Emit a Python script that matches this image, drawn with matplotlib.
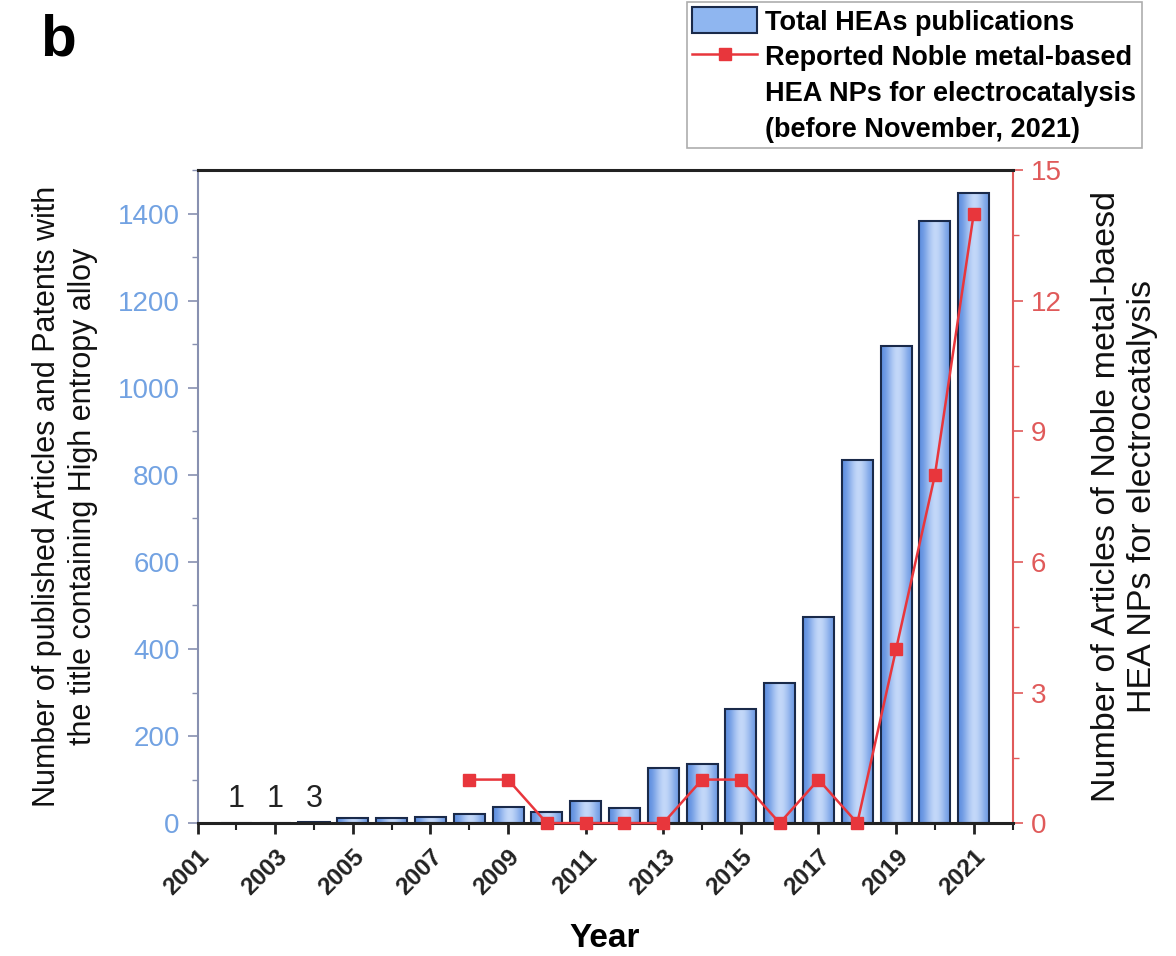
import matplotlib
matplotlib.use("Agg")
import matplotlib.pyplot as plt
import numpy as np
from matplotlib.ticker import MultipleLocator
from matplotlib.lines import Line2D
from matplotlib.patches import Patch
from matplotlib.colors import LinearSegmentedColormap

plt.rcParams['font.family'] = ['Liberation Sans', 'DejaVu Sans']

years = [2002, 2003, 2004, 2005, 2006, 2007, 2008, 2009, 2010, 2011,
         2012, 2013, 2014, 2015, 2016, 2017, 2018, 2019, 2020, 2021]
total_heas = [1, 1, 3, 11, 12, 15, 21, 37, 25, 50,
              34, 126, 135, 262, 321, 473, 835, 1095, 1384, 1448]
noble_years = [2008, 2009, 2010, 2011, 2012, 2013, 2014, 2015,
               2016, 2017, 2018, 2019, 2020, 2021]
noble_counts = [1, 1, 0, 0, 0, 0, 1, 1, 0, 1, 0, 4, 8, 14]
annot_years = [2002, 2003, 2004]
annot_text = ["1", "1", "3"]

fig = plt.figure(figsize=(11.76, 9.56), dpi=100)
ax = fig.add_axes([0.168, 0.139, 0.693, 0.683])
ax2 = ax.twinx()

blue_tick = '#72a2e2'
red = '#e8363c'
red_tick = '#e05a5a'

bars = ax.bar(years, total_heas, width=0.8, color='#8fb6f0',
              edgecolor='#1a2a4a', linewidth=1.5, zorder=2)
grad = np.array([[0.0, 0.35, 0.75, 1.0, 0.85, 0.5, 0.15]])
cmap = LinearSegmentedColormap.from_list('b', ['#5f8fe0', '#c9dcfa'])
for b in bars:
    x0, y0 = b.get_x(), b.get_y()
    w, h = b.get_width(), b.get_height()
    im = ax.imshow(grad, cmap=cmap, aspect='auto', extent=[x0, x0 + w, y0, y0 + h],
                   interpolation='bicubic', zorder=2.5, vmin=0, vmax=1)
    im.set_clip_path(b)
    b.set_facecolor('none')
    b.set_zorder(3)

for yr, t in zip(annot_years, annot_text):
    ax.text(yr, 22, t, ha='center', va='bottom', fontsize=22, color='#222222')

ax.set_xlim(2001, 2022)
ax.set_ylim(0, 1500)
ax2.set_ylim(0, 15)

ax2.plot(noble_years, noble_counts, color=red, marker='s', markersize=9,
         linewidth=1.8, zorder=5, clip_on=False)

ax.xaxis.set_major_locator(MultipleLocator(2))
ax.xaxis.set_minor_locator(MultipleLocator(1))
ax.yaxis.set_major_locator(MultipleLocator(200))
ax.yaxis.set_minor_locator(MultipleLocator(100))
ax2.yaxis.set_major_locator(MultipleLocator(3))
ax2.yaxis.set_minor_locator(MultipleLocator(1.5))

ax.set_xticks(np.arange(2001, 2022, 2))
ax.set_xticklabels([str(y) for y in range(2001, 2022, 2)], rotation=45,
                   ha='right', rotation_mode='anchor', fontweight='bold', fontsize=17.5)
ax.tick_params(axis='x', which='major', direction='out', length=8, width=2, colors='#222222', pad=8)
ax.tick_params(axis='x', which='minor', direction='out', length=5, width=1.5, colors='#222222')
ax.tick_params(axis='y', which='major', direction='out', length=7, width=1.2,
               colors='#8890b0', labelcolor=blue_tick, labelsize=20, pad=6)
ax.tick_params(axis='y', which='minor', direction='out', length=4, width=1.0, colors='#8890b0')
ax2.tick_params(axis='y', which='major', direction='out', length=7, width=1.2,
                colors=red_tick, labelcolor=red_tick, labelsize=20, pad=6)
ax2.tick_params(axis='y', which='minor', direction='out', length=4, width=1.0, colors=red_tick)

for sp in ['top', 'bottom']:
    ax2.spines[sp].set_color('#222222')
    ax2.spines[sp].set_linewidth(2.2)
ax2.spines['left'].set_color('#8890b0')
ax2.spines['left'].set_linewidth(1.5)
ax2.spines['right'].set_color(red_tick)
ax2.spines['right'].set_linewidth(1.5)
for sp in ax.spines.values():
    sp.set_visible(False)

ax.set_xlabel('Year', fontsize=24, fontweight='bold', labelpad=17)
ax.set_ylabel('Number of published Articles and Patents with\nthe title containing High entropy alloy',
              fontsize=22, color='#111111', labelpad=14, linespacing=1.25)
ax2.set_ylabel('Number of Articles of Noble metal-baesd\nHEA NPs for electrocatalysis',
               fontsize=24.5, color='#111111', labelpad=21, linespacing=1.2)

fig.text(0.034, 0.958, 'b', fontsize=42, fontweight='bold', va='center')

blank = Line2D([], [], linestyle='none')
handles = [Patch(facecolor='#8fb6f0', edgecolor='#1a2a4a', linewidth=1.5),
           Line2D([0], [0], color=red, marker='s', markersize=8, linewidth=1.8),
           blank, blank]
labels = ['Total HEAs publications', 'Reported Noble metal-based',
          'HEA NPs for electrocatalysis', '(before November, 2021)']
leg = fig.legend(handles, labels, loc='upper right', bbox_to_anchor=(0.971, 0.998),
                 prop={'weight': 'bold', 'size': 19.5}, frameon=True, fancybox=False,
                 edgecolor='#999999', handlelength=2.4, handletextpad=0.3,
                 borderpad=0.2, labelspacing=0.28, borderaxespad=0, handleheight=1.1)
leg.get_frame().set_linewidth(1.2)

fig.savefig('out.png', dpi=100)
